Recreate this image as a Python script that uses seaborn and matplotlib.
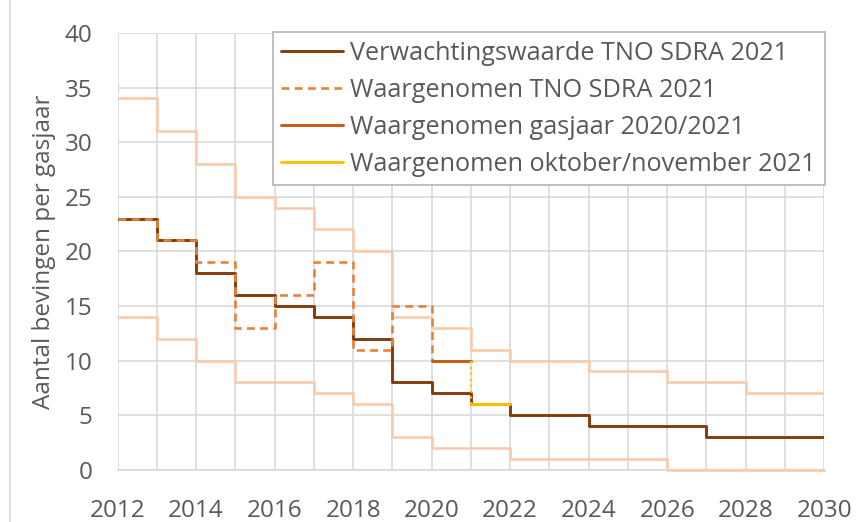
import matplotlib
matplotlib.use("Agg")
import matplotlib.pyplot as plt
import seaborn as sns
import numpy as np
from matplotlib.lines import Line2D

# gasjaren (stap begint op het jaartal)
jaren = [2012, 2013, 2014, 2015, 2016, 2017, 2018, 2019, 2020, 2021,
         2022, 2023, 2024, 2025, 2026, 2027, 2028, 2029, 2030]
verwachting = [23, 21, 18, 16, 15, 14, 12, 8, 7, 6, 5, 5, 4, 4, 4, 3, 3, 3, 3]
bovengrens = [34, 31, 28, 25, 24, 22, 20, 14, 13, 11, 10, 10, 9, 9, 8, 8, 7, 7, 7]
ondergrens = [14, 12, 10, 8, 8, 7, 6, 3, 2, 2, 1, 1, 1, 1, 0, 0, 0, 0, 0]

jaren_waarg = [2012, 2013, 2014, 2015, 2016, 2017, 2018, 2019, 2020]
waargenomen_tno = [23, 21, 19, 13, 16, 19, 11, 15, 10]

jaren_gasjaar = [2020, 2021]
waargenomen_gasjaar = [10, 10]

jaren_okt = [2021, 2022]
waargenomen_okt = [6, 6]
overgang_okt = [10, 6]

c_dark = "#843C0C"
c_dash = "#E8823A"
c_orange = "#C55A11"
c_yellow = "#FFC000"
c_peach = "#F8CBAD"
c_grid = "#D9D9D9"
c_text = "#595959"

sns.set_theme(style="white")
plt.rcParams["font.family"] = ["Open Sans", "DejaVu Sans"]

fig, ax = plt.subplots(figsize=(8.64, 5.22), dpi=100)
fig.subplots_adjust(left=0.136, right=0.954, top=0.937, bottom=0.100)

sns.lineplot(x=jaren, y=bovengrens, drawstyle="steps-post", color=c_peach, lw=1.9, ax=ax)
sns.lineplot(x=jaren, y=ondergrens, drawstyle="steps-post", color=c_peach, lw=1.9, ax=ax,
             clip_on=False, zorder=3)
sns.lineplot(x=jaren, y=verwachting, drawstyle="steps-post", color=c_dark, lw=2.1, ax=ax,
             label="Verwachtingswaarde TNO SDRA 2021")
sns.lineplot(x=jaren_waarg, y=waargenomen_tno, drawstyle="steps-post", color=c_dash, lw=1.9,
             linestyle=(0, (3, 2)), ax=ax, label="Waargenomen TNO SDRA 2021")
sns.lineplot(x=jaren_gasjaar, y=waargenomen_gasjaar, color=c_orange, lw=2.1, ax=ax,
             label="Waargenomen gasjaar 2020/2021")
ax.plot([jaren_okt[0], jaren_okt[0]], overgang_okt, color=c_yellow, lw=1.6, linestyle=":")
sns.lineplot(x=jaren_okt, y=waargenomen_okt, color=c_yellow, lw=2.1, ax=ax,
             label="Waargenomen oktober/november 2021")

ax.set_xlim(2012, 2030)
ax.set_ylim(0, 40)
ax.set_xticks(np.arange(2012, 2031, 2))
ax.set_xticks(np.arange(2012, 2031, 1), minor=True)
ax.set_yticks(np.arange(0, 41, 5))
ax.grid(True, which="both", axis="x", color=c_grid, lw=1.2)
ax.grid(True, which="major", axis="y", color=c_grid, lw=1.2)
ax.set_axisbelow(True)
for side in ["top", "right", "left"]:
    ax.spines[side].set_visible(False)
ax.spines["bottom"].set_color(c_grid)
ax.spines["bottom"].set_linewidth(1.2)
ax.tick_params(axis="both", which="both", length=0, labelsize=17.5, colors=c_text)
ax.tick_params(axis="y", pad=18)
ax.tick_params(axis="x", pad=21)
ax.set_xlabel("")
ax.set_ylabel("Aantal bevingen per gasjaar", fontsize=17.5, color=c_text, labelpad=6)

leg = ax.legend(loc="upper right", bbox_to_anchor=(1.001, 1.002), fontsize=18.2, frameon=True,
                fancybox=False, edgecolor="#BFBFBF", framealpha=1, handlelength=2.45,
                handletextpad=0.28, borderpad=0.35, labelspacing=0.47, borderaxespad=0.0)
leg.get_frame().set_linewidth(1.4)
for t in leg.get_texts():
    t.set_color(c_text)

fig.add_artist(Line2D([0.012, 0.012], [0, 1], transform=fig.transFigure, color=c_grid, lw=1.2))

fig.savefig("out.png", dpi=100)
